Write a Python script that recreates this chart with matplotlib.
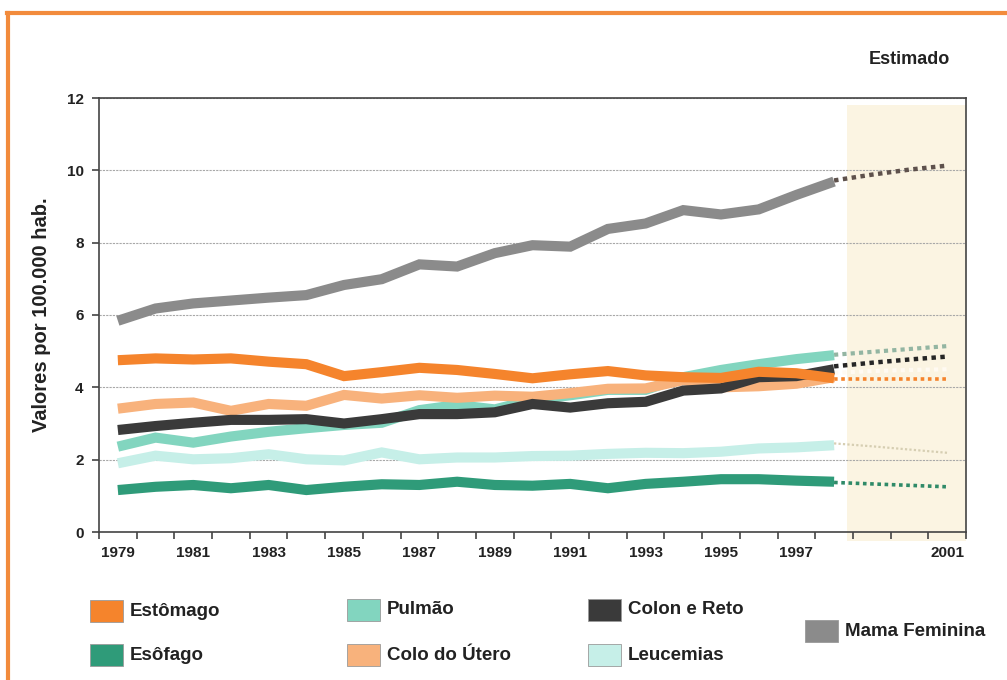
import numpy as np
import matplotlib.pyplot as plt
from matplotlib.patches import Rectangle
from matplotlib.lines import Line2D

plt.rcParams['font.family'] = ['Liberation Sans', 'DejaVu Sans']
plt.rcParams['font.weight'] = 'bold'

years = np.arange(1979, 1999)
years_est = np.arange(1998, 2002)

estomago = [4.75, 4.80, 4.77, 4.80, 4.71, 4.64, 4.31, 4.42, 4.54, 4.48,
            4.37, 4.25, 4.36, 4.45, 4.33, 4.28, 4.26, 4.43, 4.39, 4.25]
esofago = [1.16, 1.25, 1.30, 1.21, 1.30, 1.16, 1.25, 1.32, 1.30, 1.39,
           1.30, 1.28, 1.33, 1.21, 1.33, 1.39, 1.46, 1.46, 1.42, 1.39]
pulmao = [2.36, 2.61, 2.47, 2.64, 2.77, 2.87, 2.96, 3.02, 3.37, 3.51,
          3.39, 3.65, 3.78, 3.93, 3.93, 4.28, 4.48, 4.64, 4.78, 4.89]
colo_utero = [3.41, 3.54, 3.58, 3.35, 3.54, 3.49, 3.79, 3.69, 3.78, 3.71,
              3.77, 3.74, 3.84, 3.96, 3.97, 4.20, 4.00, 4.03, 4.10, 4.28]
colon_reto = [2.82, 2.93, 3.02, 3.10, 3.10, 3.12, 3.00, 3.12, 3.26, 3.26,
              3.31, 3.54, 3.44, 3.56, 3.60, 3.91, 3.97, 4.28, 4.31, 4.50]
leucemias = [1.90, 2.11, 2.01, 2.04, 2.15, 2.01, 1.98, 2.20, 2.01, 2.06,
             2.06, 2.10, 2.11, 2.16, 2.19, 2.18, 2.22, 2.31, 2.34, 2.40]
mama = [5.84, 6.18, 6.32, 6.40, 6.48, 6.55, 6.83, 6.99, 7.40, 7.34,
        7.71, 7.93, 7.89, 8.38, 8.53, 8.90, 8.78, 8.92, 9.32, 9.69]

estomago_est = [4.22, 4.22, 4.22, 4.22]
esofago_est = [1.37, 1.33, 1.29, 1.25]
pulmao_est = [4.90, 4.98, 5.06, 5.14]
colo_utero_est = [4.40, 4.45, 4.48, 4.50]
colon_reto_est = [4.58, 4.68, 4.77, 4.85]
leucemias_est = [2.45, 2.37, 2.28, 2.19]
mama_est = [9.72, 9.88, 10.02, 10.13]

label_years = [1979, 1981, 1983, 1985, 1987, 1989, 1991, 1993, 1995, 1997, 2001]

# drawing order: bottom first
series = [
    ('Leucemias', leucemias, leucemias_est, '#c6efe8', '#d6ceb2', 1.6),
    ('Esôfago', esofago, esofago_est, '#2f9b79', '#2f8a68', 2.6),
    ('Pulmão', pulmao, pulmao_est, '#82d5bf', '#93b5a2', 3.0),
    ('Colo do Útero', colo_utero, colo_utero_est, '#f8b27c', '#fffaf2', 3.0),
    ('Colon e Reto', colon_reto, colon_reto_est, '#3a3a3a', '#262626', 3.2),
    ('Estômago', estomago, estomago_est, '#f5842c', '#f5842c', 2.6),
    ('Mama Feminina', mama, mama_est, '#8b8b8b', '#5e514c', 3.2),
]

W, H = 1007, 680
fig = plt.figure(figsize=(W / 100, H / 100), dpi=100)
ax = fig.add_axes([99 / W, 1 - 532 / H, 867 / W, 434 / H])

# estimated zone
ax.add_patch(Rectangle((1998.33, -0.02), 2001.5 - 1998.33, 1.005,
                       transform=ax.get_xaxis_transform(), color='#fbf4e2',
                       zorder=0, clip_on=False, lw=0))

for name, vals, est, col, ecol, elw in series:
    ax.plot(years, vals, color=col, lw=7.3, solid_capstyle='butt',
            solid_joinstyle='miter', zorder=3)
    ax.plot(years_est, est, color=ecol, lw=elw, linestyle=(0, (1, 1)),
            dash_capstyle='butt', zorder=2)

ax.set_xlim(1978.5, 2001.5)
ax.set_ylim(0, 12)
ax.set_yticks(np.arange(0, 13, 2))
ax.set_xticks(np.arange(1978.5, 2002, 1))
ax.set_xticklabels([])
ax.set_xticks(label_years, minor=True)
ax.set_xticklabels([str(y) for y in label_years], minor=True)
ax.tick_params(axis='x', which='major', direction='out', length=5, width=1.2,
               color='#444444')
ax.tick_params(axis='x', which='minor', length=0, pad=10, labelsize=11,
               labelcolor='#222222')
ax.tick_params(axis='y', direction='out', length=5, width=1.2, pad=6,
               labelsize=11, labelcolor='#222222', color='#444444')
for lab in ax.get_xticklabels(minor=True) + ax.get_yticklabels():
    lab.set_fontweight('bold')

ax.grid(axis='y', color='#a8a8a8', lw=0.8, linestyle=(0, (2, 1)), zorder=1)
ax.set_axisbelow(True)
for s in ax.spines.values():
    s.set_color('#444444')
    s.set_linewidth(1.2)

ax.set_ylabel('Valores por 100.000 hab.', fontsize=14.5, fontweight='bold',
              color='#222222', labelpad=11)

fig.text(909 / W, 1 - 60 / H, 'Estimado', fontsize=13, fontweight='bold',
         color='#222222', ha='center', va='center')

# orange frame
fig.add_artist(Line2D([7 / W, 1], [1 - 13 / H] * 2, color='#f28b3c', lw=3,
                      transform=fig.transFigure))
fig.add_artist(Line2D([8 / W] * 2, [0, 1 - 13 / H], color='#f28b3c', lw=3,
                      transform=fig.transFigure))

# legend
leg_names = ['Estômago', 'Esôfago', 'Pulmão', 'Colo do Útero',
             'Colon e Reto', 'Leucemias', 'Mama Feminina']
leg_pos = [(90, 611), (90, 655), (347, 610), (347, 655),
           (588, 610), (588, 655), (805, 631)]
colors = {n: c for n, _, _, c, _, _ in series}
for name, (px, py) in zip(leg_names, leg_pos):
    fig.add_artist(Rectangle((px / W, 1 - (py + 11) / H), 33 / W, 22 / H,
                             transform=fig.transFigure,
                             facecolor=colors[name], edgecolor='#9a9a9a',
                             lw=0.6))
    fig.text((px + 40) / W, 1 - py / H, name, fontsize=13.5,
             fontweight='bold', color='#222222', va='center', ha='left')

fig.savefig('out.png', dpi=100)
